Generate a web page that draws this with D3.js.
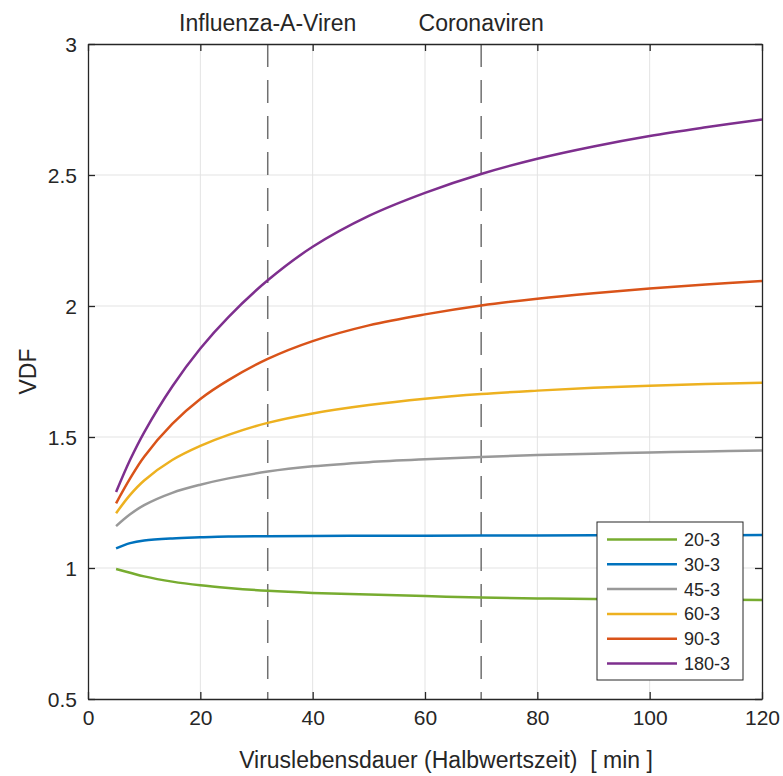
<!DOCTYPE html>
<html>
<head>
<meta charset="utf-8">
<script src="https://cdn.jsdelivr.net/npm/d3@7"></script>
<style>
  body { margin: 0; background: #fff; }
  svg text { font-family: "Liberation Sans", Arial, Helvetica, sans-serif; fill: #262626; }
</style>
</head>
<body>
<svg width="783" height="776"></svg>
<script>
// x positions (Viruslebensdauer, min)
var lifetimes = [5, 7.5, 10, 15, 20, 25, 32, 40, 50, 60, 70, 80, 90, 100, 110, 120];

var seriesNames = ["20-3", "30-3", "45-3", "60-3", "90-3", "180-3"];
var seriesColors = ["#77AC30", "#0072BD", "#999999", "#EDB120", "#D95319", "#7E2F8E"];

var vdf20 = [0.996, 0.982, 0.968, 0.948, 0.934, 0.924, 0.913, 0.905, 0.899, 0.893, 0.887, 0.884, 0.882, 0.880, 0.879, 0.878];
var vdf30 = [1.075, 1.095, 1.105, 1.113, 1.117, 1.120, 1.121, 1.122, 1.123, 1.123, 1.124, 1.124, 1.125, 1.125, 1.125, 1.126];
var vdf45 = [1.160, 1.205, 1.240, 1.287, 1.318, 1.342, 1.368, 1.388, 1.404, 1.415, 1.424, 1.431, 1.436, 1.441, 1.445, 1.448];
var vdf60 = [1.209, 1.279, 1.334, 1.412, 1.466, 1.508, 1.554, 1.590, 1.622, 1.646, 1.664, 1.677, 1.688, 1.696, 1.702, 1.707];
var vdf90 = [1.247, 1.342, 1.425, 1.550, 1.645, 1.717, 1.798, 1.866, 1.926, 1.968, 2.002, 2.028, 2.049, 2.067, 2.082, 2.095];
var vdf180 = [1.290, 1.413, 1.518, 1.693, 1.838, 1.958, 2.098, 2.226, 2.344, 2.432, 2.504, 2.562, 2.609, 2.649, 2.682, 2.712];

var seriesValues = [vdf20, vdf30, vdf45, vdf60, vdf90, vdf180];

var xTicks = [0, 20, 40, 60, 80, 100, 120];
var yTicks = [0.5, 1, 1.5, 2, 2.5, 3];

// marker lines with their labels
var markerX = [32, 70];
var markerLabels = ["Influenza-A-Viren", "Coronaviren"];

var svg = d3.select("svg"),
  margin = { top: 44, right: 21, bottom: 77, left: 88 },
  width = +svg.attr("width") - margin.left - margin.right,
  height = +svg.attr("height") - margin.top - margin.bottom;

var x = d3.scaleLinear().domain([0, 120]).range([0, width]),
  y = d3.scaleLinear().domain([0.5, 3]).range([height, 0]);

var g = svg.append("g")
  .attr("transform", "translate(" + margin.left + "," + margin.top + ")");

// grid
g.append("g").selectAll("line")
  .data(xTicks.slice(1, -1))
  .enter().append("line")
  .attr("x1", function (d) { return x(d); })
  .attr("x2", function (d) { return x(d); })
  .attr("y1", 0).attr("y2", height)
  .attr("stroke", "#e3e3e3").attr("stroke-width", 1);

g.append("g").selectAll("line")
  .data(yTicks.slice(1, -1))
  .enter().append("line")
  .attr("y1", function (d) { return y(d); })
  .attr("y2", function (d) { return y(d); })
  .attr("x1", 0).attr("x2", width)
  .attr("stroke", "#e3e3e3").attr("stroke-width", 1);

// dashed markers
g.append("g").selectAll("line")
  .data(markerX)
  .enter().append("line")
  .attr("x1", function (d) { return x(d); })
  .attr("x2", function (d) { return x(d); })
  .attr("y1", 0).attr("y2", height)
  .attr("stroke", "#707070").attr("stroke-width", 1.5)
  .attr("stroke-dasharray", "23,13");

svg.append("g").selectAll("text")
  .data(markerX)
  .enter().append("text")
  .attr("x", function (d) { return margin.left + x(d); })
  .attr("y", 31)
  .attr("text-anchor", "middle")
  .style("font-size", "23px")
  .text(function (d, i) { return markerLabels[i]; });

// curves
var line = d3.line()
  .x(function (d) { return x(d[0]); })
  .y(function (d) { return y(d[1]); })
  .curve(d3.curveCatmullRom.alpha(0.5));

g.append("g").selectAll("path")
  .data(seriesValues)
  .enter().append("path")
  .attr("fill", "none")
  .attr("stroke", function (d, i) { return seriesColors[i]; })
  .attr("stroke-width", 2.5)
  .attr("d", function (vals) {
    return line(vals.map(function (v, i) { return [lifetimes[i], v]; }));
  });

// axes (MATLAB style: ticks inside, box all around)
var xAxis = g.append("g")
  .attr("transform", "translate(0," + height + ")")
  .call(d3.axisBottom(x).tickValues(xTicks).tickSizeInner(-7).tickSizeOuter(0).tickPadding(11));
var yAxis = g.append("g")
  .call(d3.axisLeft(y).tickValues(yTicks).tickFormat(d3.format("")).tickSizeInner(-7).tickSizeOuter(0).tickPadding(11));
var xTop = g.append("g")
  .call(d3.axisTop(x).tickValues(xTicks).tickSizeInner(-7).tickSizeOuter(0).tickFormat(""));
var yRight = g.append("g")
  .attr("transform", "translate(" + width + ",0)")
  .call(d3.axisRight(y).tickValues(yTicks).tickSizeInner(-7).tickSizeOuter(0).tickFormat(""));

[xAxis, yAxis, xTop, yRight].forEach(function (a) {
  a.select(".domain").attr("stroke", "#262626").attr("stroke-width", 1.3);
  a.selectAll(".tick line").attr("stroke", "#262626").attr("stroke-width", 1.3);
  a.selectAll("text").style("font-size", "21px").attr("fill", "#262626")
    .style("font-family", "'Liberation Sans', Arial, sans-serif");
});
yAxis.selectAll("text").attr("dy", "0.36em");

// axis titles
svg.append("text")
  .attr("x", 446)
  .attr("y", 768)
  .attr("text-anchor", "middle")
  .style("font-size", "23px")
  .attr("xml:space", "preserve")
  .text("Viruslebensdauer (Halbwertszeit)  [ min ]");

svg.append("text")
  .attr("transform", "translate(36," + (margin.top + height / 2) + ") rotate(-90)")
  .attr("text-anchor", "middle")
  .style("font-size", "23px")
  .text("VDF");

// legend
var legend = svg.append("g").attr("transform", "translate(597,522)");
legend.append("rect")
  .attr("width", 146).attr("height", 158)
  .attr("fill", "#fff").attr("stroke", "#262626").attr("stroke-width", 1);

var rows = legend.selectAll("g.row")
  .data(seriesNames)
  .enter().append("g")
  .attr("class", "row")
  .attr("transform", function (d, i) { return "translate(0," + (17.5 + i * 24.8) + ")"; });

rows.append("line")
  .attr("x1", 10).attr("x2", 80)
  .attr("stroke", function (d, i) { return seriesColors[i]; })
  .attr("stroke-width", 2.5);

rows.append("text")
  .attr("x", 87)
  .attr("dy", "0.36em")
  .style("font-size", "18px")
  .text(function (d) { return d; });
</script>
</body>
</html>
